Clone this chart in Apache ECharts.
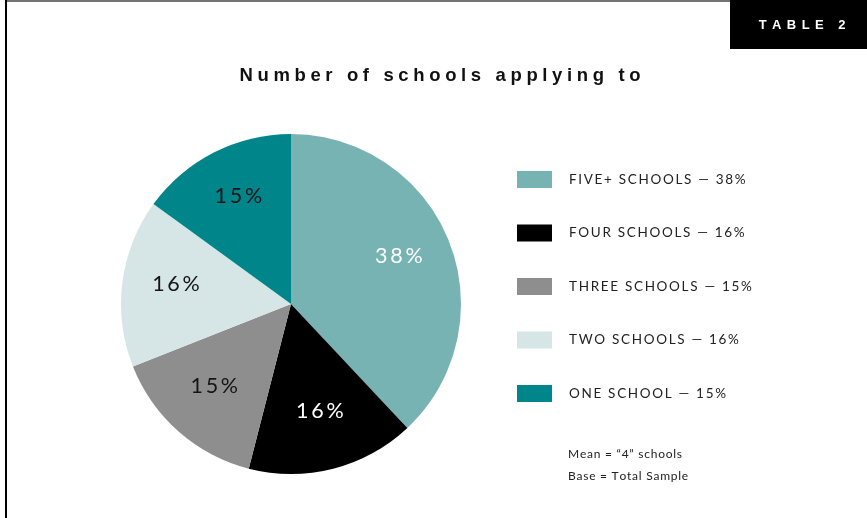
<!DOCTYPE html>
<html>
<head>
<meta charset="utf-8">
<script src="https://cdn.jsdelivr.net/npm/echarts@6/dist/echarts.min.js"></script>
<style>
  html, body { margin: 0; padding: 0; background: #ffffff; }
  #chart { width: 867px; height: 518px; }
</style>
</head>
<body>
<div id="chart"></div>
<script>
// Share of respondents by number of schools applied to
const categories = ['FIVE+ SCHOOLS', 'FOUR SCHOOLS', 'THREE SCHOOLS', 'TWO SCHOOLS', 'ONE SCHOOL'];
const shares = [38, 16, 15, 16, 15];
const chartTitle = 'Number of schools applying to';
const tableTag = 'TABLE 2';
const notes = ['Mean = \u201C4\u201D schools', 'Base = Total Sample'];

// Palette
const sliceColors = ['#78b3b4', '#000000', '#8e8e8e', '#d6e5e5', '#00868a'];
const labelColors = ['#ffffff', '#ffffff', '#151515', '#151515', '#151515'];

// Letter spacing via hair spaces between glyphs
const HAIR = '\u200A';
function track(text, n) {
  return Array.from(text).join(HAIR.repeat(n));
}

const sliceData = categories.map((name, i) => ({
  name: name,
  value: shares[i],
  itemStyle: { color: sliceColors[i] }
}));

// Same values again, transparent, only to carry the percentage labels
const labelData = categories.map((name, i) => ({
  name: name,
  value: shares[i],
  itemStyle: { color: 'rgba(0,0,0,0)' },
  label: { color: labelColors[i] }
}));

const center = [291, 304];
const chart = echarts.init(document.getElementById('chart'), null, { renderer: 'canvas' });

chart.setOption({
  backgroundColor: '#ffffff',
  animation: false,
  legend: {
    orient: 'vertical',
    left: 517,
    top: 171,
    padding: 0,
    itemWidth: 35,
    itemHeight: 17,
    itemGap: 36.5,
    icon: 'rect',
    selectedMode: false,
    data: categories,
    formatter: function (name) {
      const i = categories.indexOf(name);
      return track(name + ' \u2014 ' + shares[i] + '%', 2);
    },
    textStyle: {
      fontFamily: 'Lato, "Open Sans", sans-serif',
      fontSize: 13.5,
      color: '#222222',
      padding: [3, 0, 0, 12]
    }
  },
  series: [
    {
      type: 'pie',
      name: 'slices',
      center: center,
      radius: [0, 170],
      startAngle: 90,
      clockwise: true,
      avoidLabelOverlap: false,
      emphasis: { disabled: true },
      label: { show: false },
      labelLine: { show: false },
      itemStyle: { borderWidth: 0 },
      data: sliceData
    },
    {
      type: 'pie',
      name: 'labels',
      center: center,
      radius: [56, 170],
      startAngle: 90,
      clockwise: true,
      silent: true,
      avoidLabelOverlap: false,
      emphasis: { disabled: true },
      labelLine: { show: false },
      label: {
        show: true,
        position: 'inside',
        offset: [0, -5],
        fontFamily: 'Lato, "Open Sans", sans-serif',
        fontSize: 21.5,
        formatter: function (p) { return track(p.value + '%', 2); }
      },
      data: labelData
    }
  ],
  graphic: [
    // frame
    { type: 'line', shape: { x1: 5, y1: 1, x2: 867, y2: 1 }, style: { stroke: '#444444', lineWidth: 1.5 } },
    { type: 'line', shape: { x1: 6, y1: 0, x2: 6, y2: 518 }, style: { stroke: '#000000', lineWidth: 2 } },
    // tag box
    { type: 'rect', shape: { x: 730, y: 0, width: 137, height: 49 }, style: { fill: '#000000' } },
    {
      type: 'text', x: 802, y: 25,
      style: {
        text: track(tableTag, 5), align: 'center', verticalAlign: 'middle',
        fill: '#ffffff', font: 'bold 13px "Liberation Sans", Arial, sans-serif'
      }
    },
    // heading
    {
      type: 'text', x: 440, y: 76,
      style: {
        text: track(chartTitle, 3), align: 'center', verticalAlign: 'middle',
        fill: '#111111', font: 'bold 18.5px "Liberation Sans", Arial, sans-serif'
      }
    },
    // notes
    {
      type: 'text', x: 568, y: 454,
      style: {
        text: track(notes[0], 1), align: 'left', verticalAlign: 'middle',
        fill: '#222222', font: '12px Lato, "Open Sans", sans-serif'
      }
    },
    {
      type: 'text', x: 568, y: 476,
      style: {
        text: track(notes[1], 1), align: 'left', verticalAlign: 'middle',
        fill: '#222222', font: '12px Lato, "Open Sans", sans-serif'
      }
    }
  ]
});
</script>
</body>
</html>
